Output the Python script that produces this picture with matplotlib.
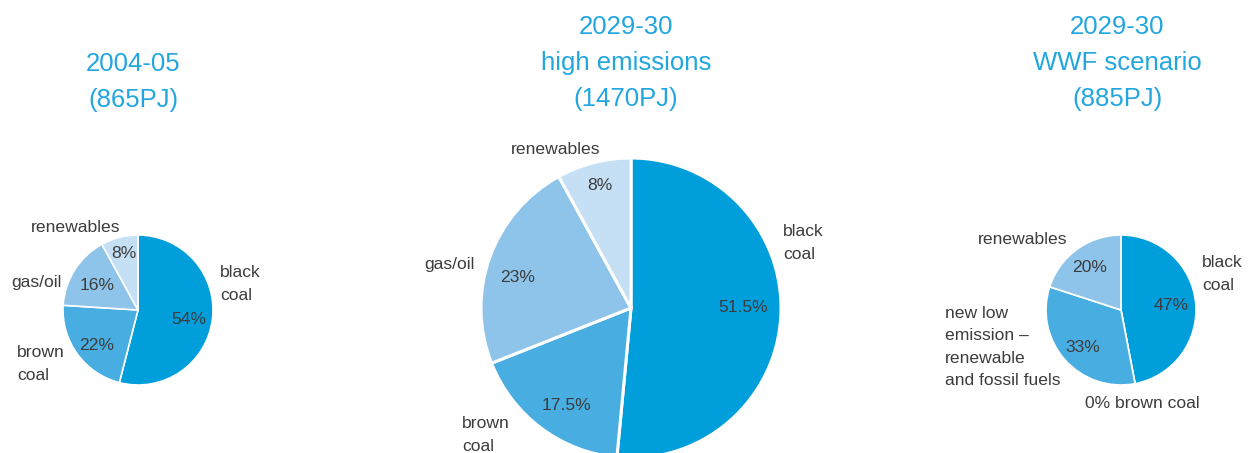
import matplotlib
matplotlib.use("Agg")
import matplotlib.pyplot as plt

# ---------------- data ----------------
titles = ["2004-05\n(865PJ)", "2029-30\nhigh emissions\n(1470PJ)", "2029-30\nWWF scenario\n(885PJ)"]

cats1 = ["black coal", "brown coal", "gas/oil", "renewables"]
vals1 = [54, 22, 16, 8]

cats2 = ["black coal", "brown coal", "gas/oil", "renewables"]
vals2 = [51.5, 17.5, 23, 8]

cats3 = ["black coal", "brown coal", "new low emission – renewable and fossil fuels", "renewables"]
vals3 = [47, 0, 33, 20]

pct1 = ["54%", "22%", "16%", "8%"]
pct2 = ["51.5%", "17.5%", "23%", "8%"]
pct3 = ["47%", "", "33%", "20%"]

lab1 = ["black\ncoal", "brown\ncoal", "gas/oil", "renewables"]
lab2 = ["black\ncoal", "brown\ncoal", "gas/oil", "renewables"]
lab3 = ["black\ncoal", "0% brown coal", "new low\nemission –\nrenewable\nand fossil fuels", "renewables"]

# ---------------- style ----------------
C_BLACK = "#009EDB"
C_BROWN = "#48AEE2"
C_GAS = "#8EC4EA"
C_REN = "#C5DFF4"
colors1 = [C_BLACK, C_BROWN, C_GAS, C_REN]
colors2 = [C_BLACK, C_BROWN, C_GAS, C_REN]
colors3 = [C_BLACK, C_BROWN, C_BROWN, C_GAS]
TITLE_C = "#22A6DF"
TEXT_C = "#3C3C3C"

W, H = 1253, 453
plt.rcParams['font.family'] = ['Liberation Sans', 'DejaVu Sans']

fig = plt.figure(figsize=(W / 100, H / 100), dpi=100)
ax = fig.add_axes([0, 0, 1, 1])


def Y(y):
    return H - y


# (center x px, center y px, radius px, edge lw)
pies = [
    (vals1, colors1, (138, 310), 75, 1.2),
    (vals2, colors2, (631, 308), 150, 2.2),
    (vals3, colors3, (1121, 310), 75, 1.2),
]
for vals, cols, (cx, cy), r, lw in pies:
    ax.pie(vals, colors=cols, startangle=90, counterclock=False,
           center=(cx, Y(cy)), radius=r,
           wedgeprops=dict(edgecolor="white", linewidth=lw))
ax.set_xlim(0, W)
ax.set_ylim(0, H)
ax.set_aspect('equal')
ax.axis('off')

TFS = 18.5
title_pos = [(133, 82), (626, 63), (1117, 63)]
for t, (x, y) in zip(titles, title_pos):
    ax.text(x, Y(y), t, ha='center', va='center', color=TITLE_C,
            fontsize=TFS, linespacing=1.62)

LFS = 12.6
# label layout (pixel positions): (x, y, ha)
lab_pos1 = [(220, 284, 'left'), (17, 364, 'left'), (62, 283, 'right'), (120, 227, 'right')]
pct_pos1 = [(189, 319), (97, 345), (97, 286), (124, 253)]
lab_pos2 = [(783, 243, 'left'), (462, 435, 'left'), (475, 265, 'right'), (600, 150, 'right')]
pct_pos2 = [(743, 308), (566, 405), (518, 278), (600, 185)]
lab_pos3 = [(1202, 274, 'left'), (1085, 404, 'left'), (945, 347, 'left'), (1067, 240, 'right')]
pct_pos3 = [(1171, 305), (0, 0), (1083, 347), (1090, 267)]

for labs, pcts, lp, pp in [(lab1, pct1, lab_pos1, pct_pos1),
                           (lab2, pct2, lab_pos2, pct_pos2),
                           (lab3, pct3, lab_pos3, pct_pos3)]:
    for l, p, (lx, ly, ha), (px, py) in zip(labs, pcts, lp, pp):
        ax.text(lx, Y(ly), l, ha=ha, va='center', color=TEXT_C,
                fontsize=LFS, linespacing=1.6)
        if p:
            ax.text(px, Y(py), p, ha='center', va='center', color=TEXT_C,
                    fontsize=LFS)

fig.savefig("out.png", dpi=100, facecolor="white")
